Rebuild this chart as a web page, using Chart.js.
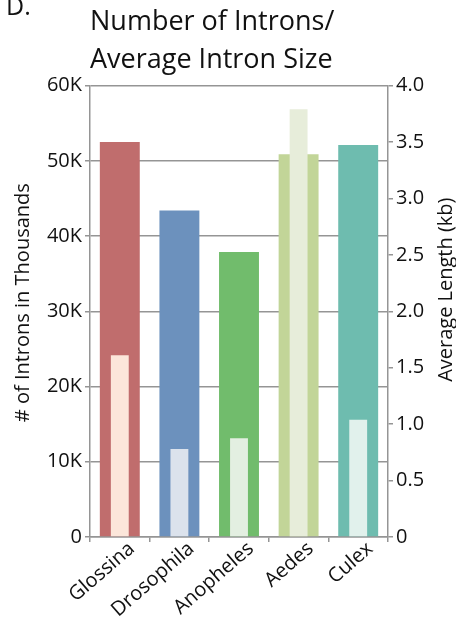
<!DOCTYPE html>
<html>
<head>
<meta charset="utf-8">
<script src="https://cdn.jsdelivr.net/npm/chart.js@4/dist/chart.umd.min.js"></script>
<style>
  html, body { margin: 0; padding: 0; background: #ffffff; }
  #wrap { width: 456px; height: 626px; position: relative; }
</style>
</head>
<body>
<div id="wrap"><canvas id="chart" width="456" height="626"></canvas></div>
<script>
// Species compared
const species = ['Glossina', 'Drosophila', 'Anopheles', 'Aedes', 'Culex'];
// Number of introns per genome
const intronCounts = [52500, 43400, 37900, 50900, 52100];
// Average intron length, kb
const avgIntronKb = [1.61, 0.78, 0.875, 3.79, 1.04];

// Tick labels for both value axes
const countTickLabels = ['0', '10K', '20K', '30K', '40K', '50K', '60K'];
const lengthTickLabels = ['0', '0.5', '1.0', '1.5', '2.0', '2.5', '3.0', '3.5', '4.0'];

const panelLetter = 'D.';
const titleLines = ['Number of Introns/', 'Average Intron Size'];
const leftTitle = '# of Introns in Thousands';
const rightTitle = 'Average Length (kb)';

const countColors = ['#c06d6d', '#6c91bd', '#71bc6c', '#c2d598', '#6ebcaf'];
const lengthColors = ['#fce6da', '#dbe2ec', '#e3efe1', '#e7edda', '#e1f1ec'];

const FONT = "'Open Sans', 'DejaVu Sans', sans-serif";
const INK = '#111111';
const AXIS_GRAY = '#959595';

// Panel letter and rotated axis titles
const annotations = {
  id: 'annotations',
  afterDraw(chart) {
    const ctx = chart.ctx;
    const area = chart.chartArea;
    ctx.save();
    ctx.fillStyle = INK;
    ctx.font = '25px ' + FONT;
    ctx.textAlign = 'left';
    ctx.textBaseline = 'alphabetic';
    ctx.fillText(panelLetter, 6, 15);

    ctx.font = '20px ' + FONT;
    ctx.textAlign = 'center';
    ctx.textBaseline = 'middle';

    ctx.save();
    ctx.translate(23, area.top + 217);
    ctx.rotate(-Math.PI / 2);
    ctx.fillText(leftTitle, 0, 0);
    ctx.restore();

    ctx.save();
    ctx.translate(446, area.top + 204);
    ctx.rotate(-Math.PI / 2);
    ctx.fillText(rightTitle, 0, 0);
    ctx.restore();

    ctx.restore();
  }
};

new Chart(document.getElementById('chart'), {
  type: 'bar',
  data: {
    labels: species,
    datasets: [
      {
        label: 'Average intron length (kb)',
        data: avgIntronKb,
        yAxisID: 'yLen',
        backgroundColor: lengthColors,
        grouped: false,
        categoryPercentage: 1,
        barPercentage: 0.3,
        order: 0
      },
      {
        label: 'Number of introns',
        data: intronCounts,
        yAxisID: 'yCount',
        backgroundColor: countColors,
        grouped: false,
        categoryPercentage: 1,
        barPercentage: 0.67,
        order: 1
      }
    ]
  },
  options: {
    responsive: false,
    animation: false,
    devicePixelRatio: 1,
    layout: { padding: { left: 0, right: 0, top: 0, bottom: 0 } },
    plugins: {
      legend: { display: false },
      tooltip: { enabled: false },
      title: {
        display: true,
        fullSize: false,
        align: 'start',
        text: titleLines,
        color: INK,
        font: { family: FONT, size: 27, weight: 'normal', lineHeight: 1.42 },
        padding: { top: 3, bottom: 6 }
      }
    },
    scales: {
      x: {
        position: 'bottom',
        grid: {
          offset: true,
          drawOnChartArea: false,
          drawTicks: true,
          tickLength: 5,
          color: AXIS_GRAY,
          lineWidth: 1.5
        },
        border: { display: true, color: AXIS_GRAY, width: 1.5 },
        ticks: {
          color: INK,
          font: { family: FONT, size: 20 },
          minRotation: 41,
          maxRotation: 41,
          padding: -5,
          labelOffset: 12
        },
        afterFit(scale) { scale.height = 89; }
      },
      yCount: {
        position: 'left',
        min: 0,
        max: 60000,
        ticks: {
          stepSize: 10000,
          color: INK,
          font: { family: FONT, size: 20 },
          padding: 3,
          callback: (v, i) => countTickLabels[i]
        },
        grid: {
          color: AXIS_GRAY,
          lineWidth: 1.5,
          drawTicks: true,
          tickLength: 5
        },
        border: { display: true, color: AXIS_GRAY, width: 1.5 },
        afterFit(scale) { scale.width = 90; }
      },
      yLen: {
        position: 'right',
        min: 0,
        max: 4,
        ticks: {
          stepSize: 0.5,
          color: INK,
          font: { family: FONT, size: 20 },
          padding: 3,
          callback: (v, i) => lengthTickLabels[i]
        },
        grid: {
          drawOnChartArea: false,
          color: AXIS_GRAY,
          lineWidth: 1.5,
          drawTicks: true,
          tickLength: 5
        },
        border: { display: true, color: AXIS_GRAY, width: 1.5 },
        afterFit(scale) { scale.width = 68; }
      }
    }
  },
  plugins: [annotations]
});
</script>
</body>
</html>
